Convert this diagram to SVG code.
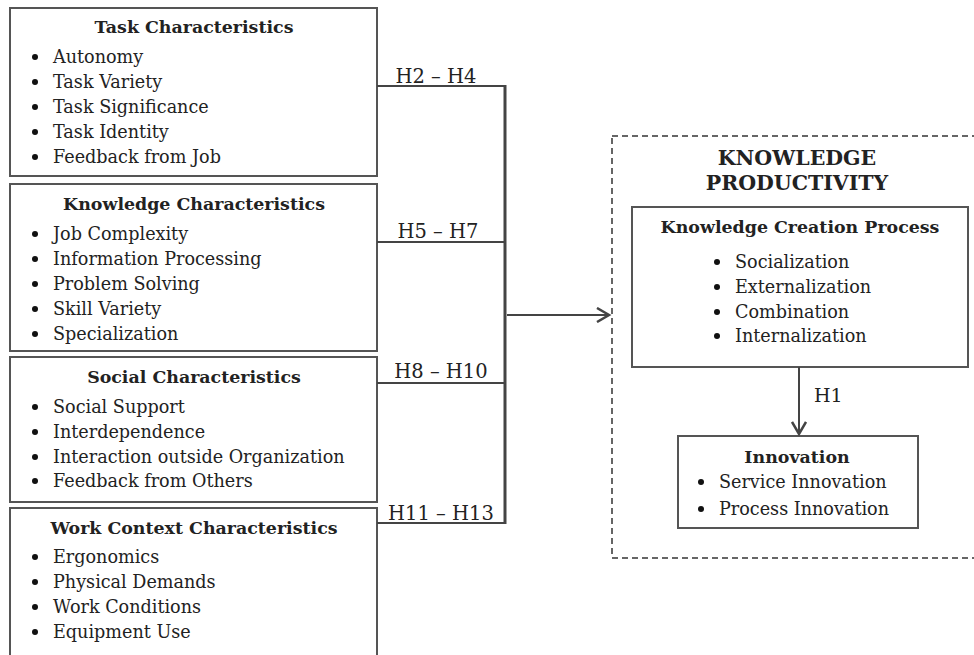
<svg xmlns="http://www.w3.org/2000/svg" width="974" height="655" viewBox="0 0 974 655">
<defs>
<style>
.box{fill:#fff;stroke:#555;stroke-width:2}
.dash{fill:none;stroke:#666;stroke-width:2;stroke-dasharray:6 4}
.t{font-family:"DejaVu Serif","Liberation Serif",serif;font-size:17.6px;fill:#222}
.b{font-family:"DejaVu Serif","Liberation Serif",serif;font-size:17.4px;font-weight:bold;fill:#222}
.h{font-family:"DejaVu Serif","Liberation Serif",serif;font-size:19.5px;fill:#222;text-anchor:middle}
.kp{font-family:"DejaVu Serif","Liberation Serif",serif;font-size:20.5px;font-weight:bold;fill:#222;text-anchor:middle}
.c{text-anchor:middle}
.bul{fill:#111}
.ln{stroke:#444;stroke-width:2;fill:none}
.lnb{stroke:#444;stroke-width:3;fill:none}
</style>
<marker id="arr" markerWidth="16" markerHeight="16" refX="13" refY="8" orient="auto" markerUnits="userSpaceOnUse">
<path d="M1,1 L13,8 L1,15" fill="none" stroke="#444" stroke-width="2.5"/>
</marker>
</defs>
<rect width="974" height="655" fill="#fff"/>

<g id="task">
<rect class="box" x="10" y="8" width="367" height="168"/>
<text class="b c" x="194" y="33">Task Characteristics</text>
<circle class="bul" cx="35" cy="57" r="3"/><text class="t" x="53" y="63">Autonomy</text>
<circle class="bul" cx="35" cy="82" r="3"/><text class="t" x="53" y="88">Task Variety</text>
<circle class="bul" cx="35" cy="107" r="3"/><text class="t" x="53" y="113">Task Significance</text>
<circle class="bul" cx="35" cy="132" r="3"/><text class="t" x="53" y="138">Task Identity</text>
<circle class="bul" cx="35" cy="157" r="3"/><text class="t" x="53" y="163">Feedback from Job</text>
</g>

<g id="knowledge">
<rect class="box" x="10" y="184" width="367" height="167"/>
<text class="b c" x="194" y="210">Knowledge Characteristics</text>
<circle class="bul" cx="35" cy="234" r="3"/><text class="t" x="53" y="240">Job Complexity</text>
<circle class="bul" cx="35" cy="259" r="3"/><text class="t" x="53" y="265">Information Processing</text>
<circle class="bul" cx="35" cy="284" r="3"/><text class="t" x="53" y="290">Problem Solving</text>
<circle class="bul" cx="35" cy="309" r="3"/><text class="t" x="53" y="315">Skill Variety</text>
<circle class="bul" cx="35" cy="334" r="3"/><text class="t" x="53" y="340">Specialization</text>
</g>

<g id="social">
<rect class="box" x="10" y="357" width="367" height="145"/>
<text class="b c" x="194" y="383">Social Characteristics</text>
<circle class="bul" cx="35" cy="407" r="3"/><text class="t" x="53" y="413">Social Support</text>
<circle class="bul" cx="35" cy="432" r="3"/><text class="t" x="53" y="438">Interdependence</text>
<circle class="bul" cx="35" cy="457" r="3"/><text class="t" x="53" y="463">Interaction outside Organization</text>
<circle class="bul" cx="35" cy="481" r="3"/><text class="t" x="53" y="487">Feedback from Others</text>
</g>

<g id="workcontext">
<rect class="box" x="10" y="508" width="367" height="160"/>
<text class="b c" x="194" y="534">Work Context Characteristics</text>
<circle class="bul" cx="35" cy="557" r="3"/><text class="t" x="53" y="563">Ergonomics</text>
<circle class="bul" cx="35" cy="582" r="3"/><text class="t" x="53" y="588">Physical Demands</text>
<circle class="bul" cx="35" cy="607" r="3"/><text class="t" x="53" y="613">Work Conditions</text>
<circle class="bul" cx="35" cy="632" r="3"/><text class="t" x="53" y="638">Equipment Use</text>
</g>

<g id="productivity">
<rect class="dash" x="612" y="136" width="372" height="422"/>
<text class="kp" x="797" y="165">KNOWLEDGE</text>
<text class="kp" x="797" y="190">PRODUCTIVITY</text>
</g>

<g id="creation">
<rect class="box" x="632" y="207" width="336" height="160"/>
<text class="b c" x="800" y="233">Knowledge Creation Process</text>
<circle class="bul" cx="717" cy="262" r="3"/><text class="t" x="735" y="268">Socialization</text>
<circle class="bul" cx="717" cy="287" r="3"/><text class="t" x="735" y="293">Externalization</text>
<circle class="bul" cx="717" cy="312" r="3"/><text class="t" x="735" y="318">Combination</text>
<circle class="bul" cx="717" cy="336" r="3"/><text class="t" x="735" y="342">Internalization</text>
</g>

<g id="innovation">
<rect class="box" x="678" y="436" width="240" height="92"/>
<text class="b c" x="797" y="463">Innovation</text>
<circle class="bul" cx="701" cy="482" r="3"/><text class="t" x="719" y="488">Service Innovation</text>
<circle class="bul" cx="701" cy="509" r="3"/><text class="t" x="719" y="515">Process Innovation</text>
</g>

<g id="connectors">
<path class="ln" d="M377,86 H505 M377,242 H505 M377,383 H505 M377,523 H505"/>
<path class="lnb" d="M505,85 V524"/>
<path class="ln" d="M507,315 H609" stroke-width="2.5" marker-end="url(#arr)"/>
<path class="ln" d="M799,367 V434" stroke-width="2.5" marker-end="url(#arr)"/>
<text class="h" x="436" y="83">H2 – H4</text>
<text class="h" x="438" y="238">H5 – H7</text>
<text class="h" x="441" y="378">H8 – H10</text>
<text class="h" x="441" y="520">H11 – H13</text>
<text class="t" x="814" y="402" style="font-size:19px">H1</text>
</g>
</svg>
